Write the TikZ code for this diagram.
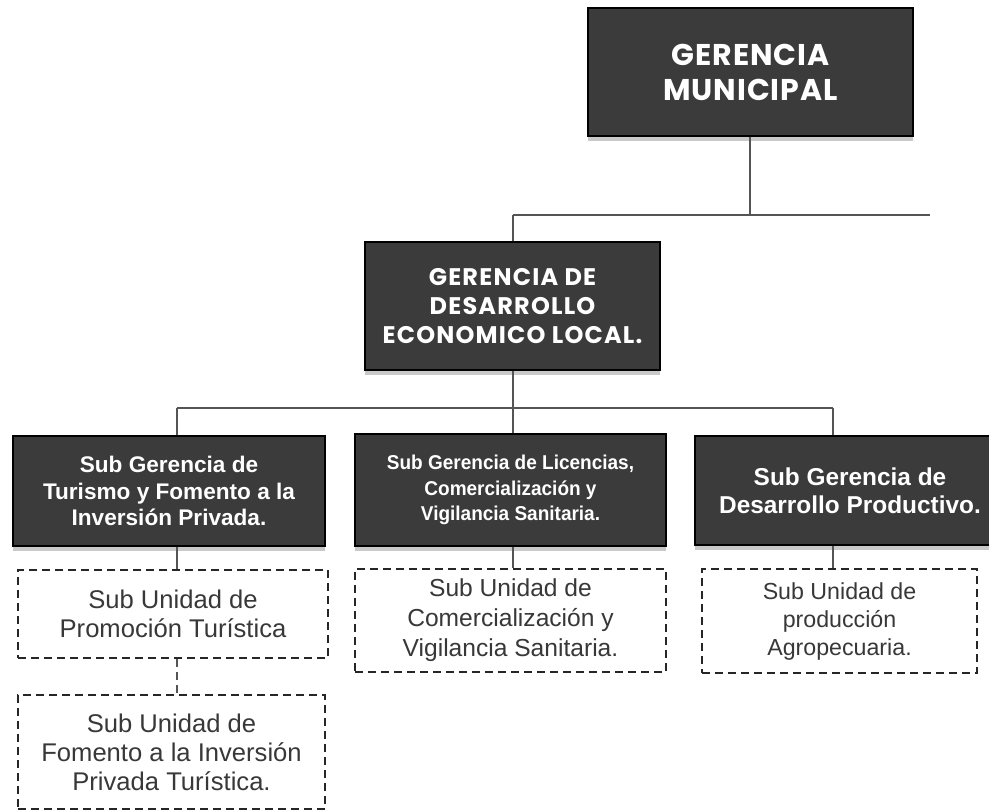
\documentclass[tikz,border=0pt]{standalone}
\usepackage{fontspec}
\setmainfont{Liberation Sans}
\newfontfamily\gothicfont[LetterSpace=3]{Poppins}
\newfontfamily\gothicwide[LetterSpace=5]{Poppins}
\newfontfamily\narrowfont[FakeStretch=0.95]{Liberation Sans}
\usetikzlibrary{shadows}
\definecolor{boxfill}{HTML}{3B3B3B}
\definecolor{linegray}{HTML}{555555}
\definecolor{unittext}{HTML}{383838}
\tikzset{
  gerbox/.style={draw=black, line width=1pt, fill=boxfill, text=white, align=center,
    inner sep=0pt, drop shadow={shadow xshift=0pt, shadow yshift=-2.5pt, opacity=0.35, fill=black!60}},
  unitbox/.style={draw=black!85, line width=0.8pt, dash pattern=on 4pt off 2.5pt, fill=white,
    text=unittext, align=center, inner sep=0pt},
  link/.style={draw=linegray, line width=1.1pt}
}
\begin{document}
\begin{tikzpicture}[x=0.5pt,y=-0.5pt]
  \useasboundingbox[fill=white] (0,0) rectangle (989,811);

  % gerencias
  \node[gerbox, minimum width=162.5pt, minimum height=64pt,
        font=\gothicfont\bfseries\fontsize{15}{17.5}\selectfont] (gm) at (750.5,72) {GERENCIA\\MUNICIPAL};
  \node[gerbox, minimum width=147.5pt, minimum height=64pt,
        font=\gothicwide\bfseries\fontsize{12}{14.5}\selectfont] (gdel) at (512.5,306) {GERENCIA DE\\DESARROLLO\\ECONOMICO LOCAL.};

  % sub gerencias
  \node[gerbox, minimum width=156pt, minimum height=55pt,
        font=\bfseries\fontsize{11.3}{13.3}\selectfont] (sgtur) at (169,491) {Sub Gerencia de\\Turismo y Fomento a la\\Inversión Privada.};
  \node[gerbox, minimum width=155.5pt, minimum height=56pt,
        font=\narrowfont\bfseries\fontsize{10}{12.8}\selectfont] (sglic) at (510.5,490) {Sub Gerencia de Licencias,\\Comercialización y\\Vigilancia Sanitaria.};
  \node[gerbox, minimum width=155pt, minimum height=54.5pt,
        font=\bfseries\fontsize{12.2}{14}\selectfont] (sgdes) at (850,490.5) {Sub Gerencia de\\Desarrollo Productivo.};

  % sub unidades
  \node[unitbox, minimum width=155pt, minimum height=44pt,
        font=\fontsize{12.8}{14.5}\selectfont] (suprom) at (173,614) {Sub Unidad de\\Promoción Turística};
  \node[unitbox, minimum width=153.5pt, minimum height=57pt,
        font=\fontsize{12.8}{14.5}\selectfont] (sufom) at (171.5,752) {Sub Unidad de\\Fomento a la Inversión\\Privada Turística.};
  \node[unitbox, minimum width=155.5pt, minimum height=51.5pt,
        font=\fontsize{12.3}{15}\selectfont] (sucom) at (510.5,620.5) {Sub Unidad de\\Comercialización y\\Vigilancia Sanitaria.};
  \node[unitbox, minimum width=137.5pt, minimum height=52pt,
        font=\fontsize{11.6}{14}\selectfont] (suagr) at (839.5,621) {Sub Unidad de\\producción\\Agropecuaria.};

  % conectores
  \coordinate (busa) at (750,215);
  \coordinate (busb) at (513,408);
  \coordinate (busend) at (930,215);
  \draw[link] (gm.south -| busa) -- (busa);
  \draw[link] (busa -| busb) -- (busend);
  \draw[link] (busa -| busb) -- (busb |- gdel.north);
  \draw[link] (gdel.south -| busb) -- (busb);
  \draw[link] (177,408) -- (833,408);
  \draw[link] (177,408) -- (177,0 |- sgtur.north);
  \draw[link] (busb) -- (busb |- sglic.north);
  \draw[link] (833,408) -- (833,0 |- sgdes.north);
  \draw[link] (177,0 |- sgtur.south) -- (177,0 |- suprom.north);
  \draw[link] (busb |- sglic.south) -- (busb |- sucom.north);
  \draw[link] (833,0 |- sgdes.south) -- (833,0 |- suagr.north);
  \draw[link, dash pattern=on 4pt off 2.5pt] (177,0 |- suprom.south) -- (177,0 |- sufom.north);
\end{tikzpicture}
\end{document}
